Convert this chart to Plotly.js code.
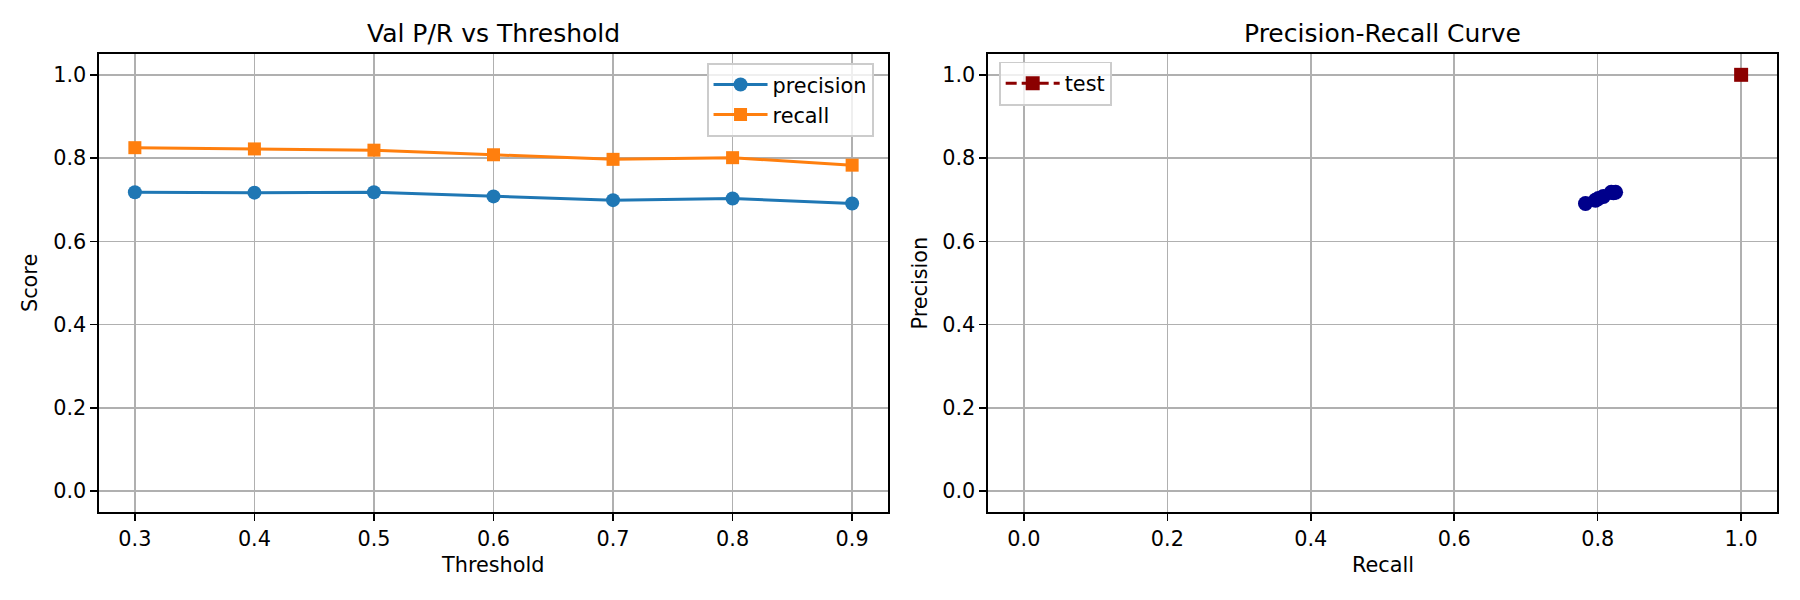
<!DOCTYPE html>
<html>
<head>
<meta charset="utf-8">
<script src="https://cdn.plot.ly/plotly-3.0.1.min.js"></script>
<style>
  html, body { margin: 0; padding: 0; background: #fff; }
  #chart { width: 1800px; height: 600px; }
</style>
</head>
<body>
<div id="chart"></div>
<script>
// Validation precision / recall swept over decision thresholds
const thresholds = [0.3, 0.4, 0.5, 0.6, 0.7, 0.8, 0.9];
const precision  = [0.718, 0.717, 0.718, 0.708, 0.699, 0.703, 0.691];
const recall     = [0.825, 0.822, 0.819, 0.808, 0.797, 0.801, 0.783];

// Test-set operating point
const testRecall    = [1.0];
const testPrecision = [1.0];

const scoreTicks  = [0.0, 0.2, 0.4, 0.6, 0.8, 1.0];
const recallTicks = [0.0, 0.2, 0.4, 0.6, 0.8, 1.0];

const FONT = 'DejaVu Sans, sans-serif';
const BLUE = '#1f77b4';
const ORANGE = '#ff7f0e';

const traces = [
  {
    x: thresholds, y: precision, name: 'precision',
    mode: 'lines+markers', xaxis: 'x', yaxis: 'y', legend: 'legend',
    line: { color: BLUE, width: 3 },
    marker: { color: BLUE, size: 14, symbol: 'circle' }
  },
  {
    x: thresholds, y: recall, name: 'recall',
    mode: 'lines+markers', xaxis: 'x', yaxis: 'y', legend: 'legend',
    line: { color: ORANGE, width: 3 },
    marker: { color: ORANGE, size: 13, symbol: 'square' }
  },
  {
    x: recall, y: precision, name: 'val',
    mode: 'lines+markers', xaxis: 'x2', yaxis: 'y2', showlegend: false,
    line: { color: '#00008b', width: 3 },
    marker: { color: '#00008b', size: 15, symbol: 'circle' }
  },
  {
    x: testRecall, y: testPrecision, name: 'test',
    mode: 'lines+markers', xaxis: 'x2', yaxis: 'y2', legend: 'legend2',
    line: { color: '#8b0000', width: 3, dash: '11px,5px' },
    marker: { color: '#8b0000', size: 14, symbol: 'square' }
  }
];

const axisBase = {
  showline: true, linecolor: '#000', linewidth: 1.6, mirror: true,
  ticks: 'outside', ticklen: 7, tickwidth: 1.6, tickcolor: '#000',
  showgrid: true, gridcolor: '#b0b0b0', gridwidth: 1.6,
  zeroline: false, tickfont: { family: FONT, size: 20.8, color: '#000' },
  tickformat: '.1f'
};

const legendBase = {
  bgcolor: 'rgba(255,255,255,0.8)', bordercolor: '#cccccc', borderwidth: 1.6,
  font: { family: FONT, size: 20.8, color: '#000' },
  xanchor: 'left', yanchor: 'top', xref: 'paper', yref: 'paper',
  itemwidth: 54, tracegroupgap: 0
};

const titleFont = { family: FONT, size: 25, color: '#000' };
const labelFont = { family: FONT, size: 20.8, color: '#000' };

const layout = {
  width: 1800, height: 600,
  margin: { l: 99, r: 23, t: 54, b: 88 },
  paper_bgcolor: '#fff', plot_bgcolor: '#fff',
  font: { family: FONT, size: 20.8, color: '#000' },
  xaxis: Object.assign({}, axisBase, {
    domain: [0, 0.4702], range: [0.27, 0.93], tickvals: thresholds, anchor: 'y'
  }),
  yaxis: Object.assign({}, axisBase, {
    range: [-0.05, 1.05], tickvals: scoreTicks, anchor: 'x'
  }),
  xaxis2: Object.assign({}, axisBase, {
    domain: [0.5298, 1], range: [-0.05, 1.05], tickvals: recallTicks, anchor: 'y2'
  }),
  yaxis2: Object.assign({}, axisBase, {
    range: [-0.05, 1.05], tickvals: scoreTicks, anchor: 'x2'
  }),
  legend: Object.assign({}, legendBase, { x: 0.3623, y: 0.9805 }),
  legend2: Object.assign({}, legendBase, { x: 0.5364, y: 0.9835 }),
  annotations: [
    { text: 'Val P/R vs Threshold', xref: 'paper', yref: 'paper',
      x: 0.2351, y: 1.0437, xanchor: 'center', yanchor: 'middle',
      showarrow: false, font: titleFont },
    { text: 'Precision-Recall Curve', xref: 'paper', yref: 'paper',
      x: 0.7649, y: 1.0437, xanchor: 'center', yanchor: 'middle',
      showarrow: false, font: titleFont },
    { text: 'Threshold', xref: 'paper', yref: 'paper',
      x: 0.2351, y: -0.1157, xanchor: 'center', yanchor: 'middle',
      showarrow: false, font: labelFont },
    { text: 'Recall', xref: 'paper', yref: 'paper',
      x: 0.7649, y: -0.1157, xanchor: 'center', yanchor: 'middle',
      showarrow: false, font: labelFont },
    { text: 'Score', xref: 'paper', yref: 'paper', textangle: -90,
      x: -0.0411, y: 0.5, xanchor: 'center', yanchor: 'middle',
      showarrow: false, font: labelFont },
    { text: 'Precision', xref: 'paper', yref: 'paper', textangle: -90,
      x: 0.489, y: 0.5, xanchor: 'center', yanchor: 'middle',
      showarrow: false, font: labelFont }
  ]
};

Plotly.newPlot('chart', traces, layout, { displayModeBar: false, staticPlot: true });
</script>
</body>
</html>
